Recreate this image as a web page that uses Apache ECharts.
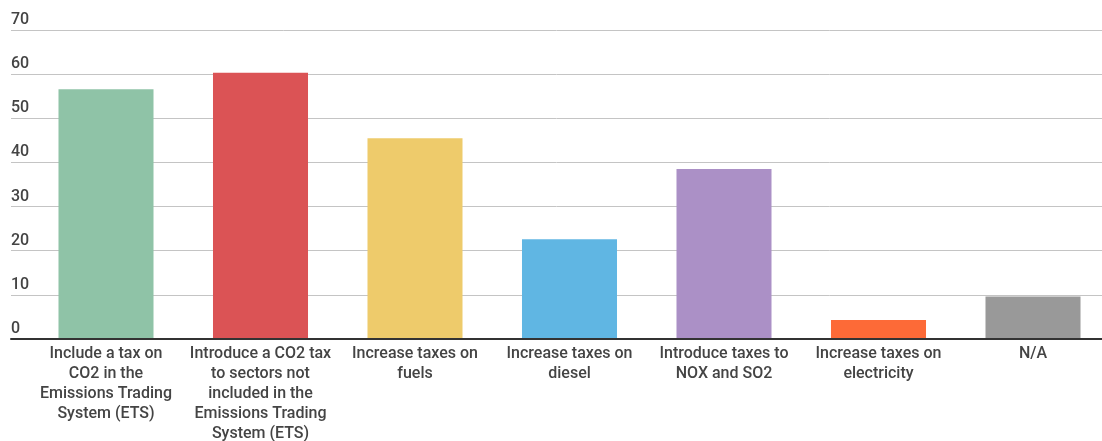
<!DOCTYPE html>
<html>
<head>
<meta charset="utf-8">
<script src="https://cdn.jsdelivr.net/npm/echarts@6/dist/echarts.min.js"></script>
<style>html,body{margin:0;padding:0;background:#fff}#c{width:1102px;height:441px}</style>
</head>
<body>
<div id="c"></div>
<script>
const categories = [
  'Include a tax on\nCO2 in the\nEmissions Trading\nSystem (ETS)',
  'Introduce a CO2 tax\nto sectors not\nincluded in the\nEmissions Trading\nSystem (ETS)',
  'Increase taxes on\nfuels',
  'Increase taxes on\ndiesel',
  'Introduce taxes to\nNOX and SO2',
  'Increase taxes on\nelectricity',
  'N/A'
];
const values = [56.6, 60.3, 45.5, 22.6, 38.5, 4.3, 9.6];
const barColors = ['#8fc3a7', '#db5355', '#eecb6b', '#60b6e3', '#ab90c6', '#fd6a37', '#999999'];
const yTicks = [0, 10, 20, 30, 40, 50, 60, 70];

const chart = echarts.init(document.getElementById('c'));
const yMin = yTicks[0], yMax = yTicks[yTicks.length - 1], yStep = yTicks[1] - yTicks[0];
chart.setOption({
  animation: false,
  textStyle: { fontFamily: 'Roboto' },
  grid: [
    { left: 11, right: 0, top: 30, bottom: 102, outerBoundsMode: 'none', containLabel: false },
    { left: 28.75, width: 1081.5, top: 30, bottom: 102, outerBoundsMode: 'none', containLabel: false }
  ],
  xAxis: [
    { gridIndex: 0, type: 'category', data: categories, z: 5,
      axisLine: { show: true, lineStyle: { color: '#333', width: 2 } },
      axisTick: { show: false }, axisLabel: { show: false } },
    { gridIndex: 1, type: 'category', data: categories,
      axisLine: { show: false }, axisTick: { show: false },
      axisLabel: { interval: 0, color: '#444', fontSize: 16, fontWeight: 500, lineHeight: 20, margin: 5, fontFamily: 'Roboto' } }
  ],
  yAxis: [
    { gridIndex: 0, type: 'value', min: yMin, max: yMax, interval: yStep,
      axisLine: { show: false }, axisTick: { show: false },
      splitLine: { lineStyle: { color: '#c4c4c4', width: 1 } },
      axisLabel: { inside: true, margin: 0, verticalAlign: 'bottom', padding: [0, 0, 2, 0],
        color: '#444', fontSize: 16, fontWeight: 500, fontFamily: 'Roboto' } },
    { gridIndex: 1, type: 'value', min: yMin, max: yMax, interval: yStep, show: false }
  ],
  series: [{
    type: 'bar', xAxisIndex: 1, yAxisIndex: 1,
    barWidth: '61.5%',
    data: values.map((v, i) => ({ value: v, itemStyle: { color: barColors[i] } }))
  }]
});
</script>
</body>
</html>
